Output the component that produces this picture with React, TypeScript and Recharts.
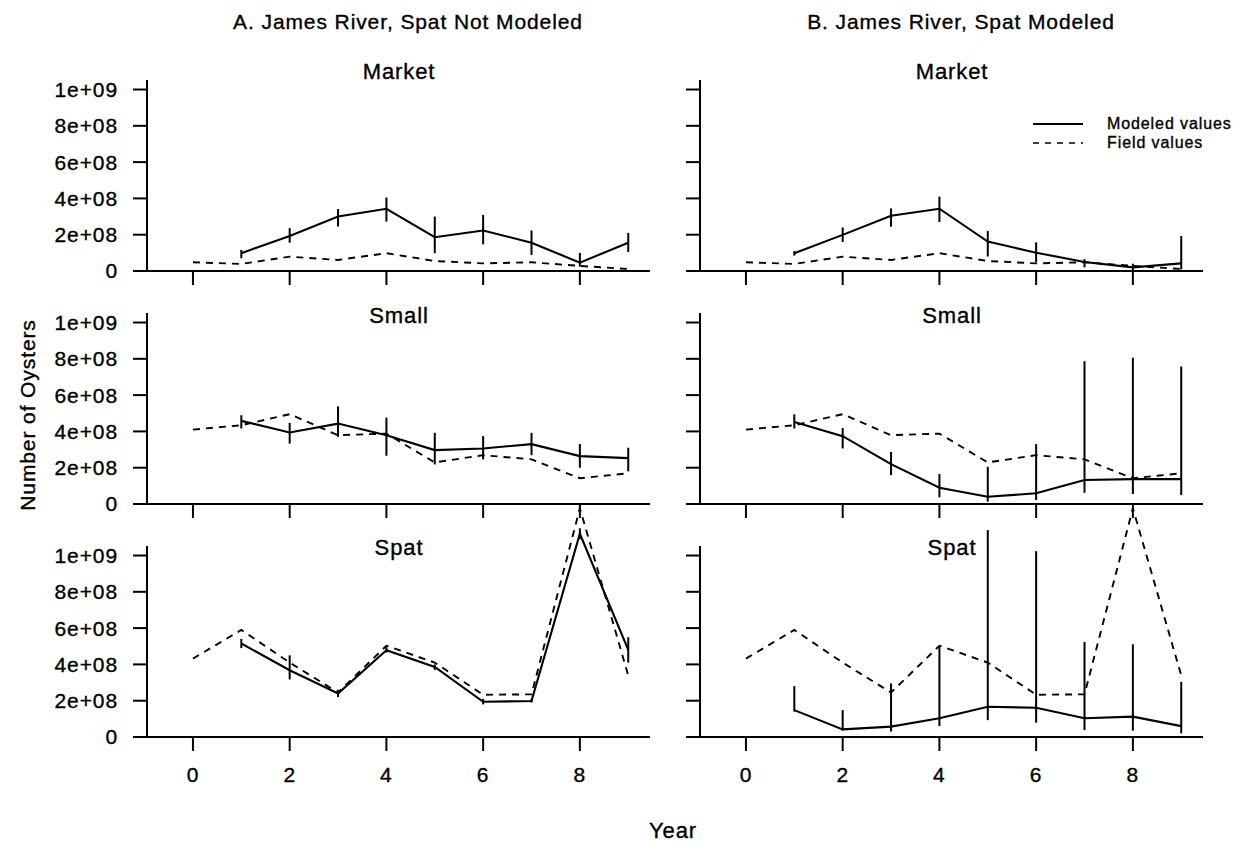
import { ErrorBar, Line, LineChart, ReferenceLine, XAxis, YAxis } from "recharts";

const years = [0, 1, 2, 3, 4, 5, 6, 7, 8, 9];
const xTicks = [0, 2, 4, 6, 8];
const yTicks = [0, 2e8, 4e8, 6e8, 8e8, 1e9];
const yTickLabels = ["0", "2e+08", "4e+08", "6e+08", "8e+08", "1e+09"];

// field survey values (dashed line), same in both columns
const marketField = [4.8e7, 3.9e7, 7.9e7, 6.1e7, 9.8e7, 5.5e7, 4.2e7, 4.8e7, 2.8e7, 1.1e7];
const smallField = [4.1e8, 4.34e8, 4.95e8, 3.79e8, 3.88e8, 2.29e8, 2.69e8, 2.46e8, 1.42e8, 1.69e8];
const spatField = [4.32e8, 5.9e8, 4.1e8, 2.45e8, 5.03e8, 4.1e8, 2.33e8, 2.35e8, 1.26e9, 3.4e8];

// A. spat not modeled
const marketModA = [null, 9.8e7, 1.93e8, 3.0e8, 3.43e8, 1.86e8, 2.23e8, 1.56e8, 4.6e7, 1.56e8];
const marketLowA = [null, 7.0e7, 1.56e8, 2.45e8, 2.72e8, 9.8e7, 1.47e8, 8.8e7, 2.4e7, 1.05e8];
const marketHighA = [null, 1.16e8, 2.36e8, 3.41e8, 4.05e8, 3.0e8, 3.09e8, 2.23e8, 1.0e8, 2.1e8];

const smallModA = [null, 4.58e8, 3.94e8, 4.43e8, 3.79e8, 2.97e8, 3.06e8, 3.3e8, 2.64e8, 2.53e8];
const smallLowA = [null, 4.16e8, 3.33e8, 3.7e8, 2.66e8, 2.18e8, 2.46e8, 2.69e8, 2.0e8, 1.8e8];
const smallHighA = [null, 4.89e8, 4.47e8, 5.38e8, 4.76e8, 3.92e8, 3.74e8, 3.92e8, 3.3e8, 3.1e8];

const spatModA = [null, 5.15e8, 3.68e8, 2.4e8, 4.78e8, 3.86e8, 1.94e8, 1.98e8, 1.12e9, 4.8e8];
const spatLowA = [null, 4.9e8, 3.17e8, 2.2e8, 4.65e8, 3.7e8, 1.8e8, 1.9e8, 1.09e9, 4.1e8];
const spatHighA = [null, 5.4e8, 4.5e8, 2.6e8, 4.95e8, 4.0e8, 2.1e8, 2.1e8, 1.15e9, 5.5e8];

// B. spat modeled
const marketModB = [null, 9.8e7, 1.99e8, 3.04e8, 3.43e8, 1.62e8, 1.01e8, 5.0e7, 2.0e7, 4.2e7];
const marketLowB = [null, 8.5e7, 1.6e8, 2.44e8, 2.7e8, 8.0e7, 4.8e7, 2.0e7, 0, 9e6];
const marketHighB = [null, 1.1e8, 2.4e8, 3.45e8, 4.1e8, 2.2e8, 1.58e8, 6.5e7, 4.0e7, 1.93e8];

const smallModB = [null, 4.52e8, 3.74e8, 2.2e8, 9.0e7, 4.0e7, 5.9e7, 1.32e8, 1.37e8, 1.37e8];
const smallLowB = [null, 4.16e8, 3.06e8, 1.59e8, 3.7e7, 1.3e7, 2.2e7, 6.2e7, 5.5e7, 4.9e7];
const smallHighB = [null, 4.94e8, 4.19e8, 2.87e8, 1.65e8, 2.05e8, 3.3e8, 7.87e8, 8.06e8, 7.58e8];

const spatModB = [null, 1.48e8, 4.2e7, 5.7e7, 1.03e8, 1.67e8, 1.61e8, 1.03e8, 1.12e8, 6.0e7];
const spatLowB = [null, 1.4e8, 3.5e7, 3.0e7, 6.0e7, 9.3e7, 7.9e7, 3.8e7, 3.5e7, 2.0e7];
const spatHighB = [null, 2.8e8, 1.48e8, 2.95e8, 5.0e8, 1.14e9, 1.024e9, 5.24e8, 5.11e8, 3.04e8];

const FONT = '"Liberation Sans", Arial, Helvetica, sans-serif';
const Y_MAX = 1.35e9;
const PLOT_W = 503;
const PLOT_H = 245;
const Y_AXIS_W = 120;

const tickStyle = { fill: "#000", fontSize: 21, stroke: "#000", strokeWidth: 0.35 };

function buildRows(mod: (number | null)[], low: (number | null)[], high: (number | null)[], field: number[]) {
  return years.map((year, i) => {
    const m = mod[i];
    return {
      year,
      field: field[i],
      modeled: m,
      err: m == null ? undefined : [m - (low[i] as number), (high[i] as number) - m],
    };
  });
}

type PanelProps = {
  rows: ReturnType<typeof buildRows>;
  axisX: number;
  zeroY: number;
  yLabels: boolean;
  xLabels: boolean;
};

function Panel({ rows, axisX, zeroY, yLabels, xLabels }: PanelProps) {
  const xAxisH = xLabels ? 70 : 20;
  return (
    <div style={{ position: "absolute", left: axisX - Y_AXIS_W, top: zeroY - PLOT_H }}>
      <LineChart
        width={Y_AXIS_W + PLOT_W}
        height={PLOT_H + xAxisH}
        data={rows}
        margin={{ top: 0, right: 0, bottom: 0, left: 0 }}
        style={{ overflow: "visible" }}
      >
        <XAxis
          dataKey="year"
          type="number"
          domain={[-0.95, 9.45]}
          ticks={xTicks}
          height={xAxisH}
          tickSize={14}
          tickMargin={16}
          axisLine={{ stroke: "#000", strokeWidth: 2 }}
          tickLine={{ stroke: "#000", strokeWidth: 2 }}
          tick={tickStyle}
          tickFormatter={(v: number) => (xLabels ? String(v) : "")}
        />
        <YAxis
          type="number"
          domain={[0, Y_MAX]}
          ticks={yTicks}
          width={Y_AXIS_W}
          tickSize={14}
          tickMargin={15}
          axisLine={false}
          tickLine={{ stroke: "#000", strokeWidth: 2 }}
          tick={tickStyle}
          tickFormatter={(v: number) => (yLabels ? yTickLabels[yTicks.indexOf(v)] : "")}
        />
        <ReferenceLine
          segment={[
            { x: -0.95, y: 0 },
            { x: -0.95, y: 1.052e9 },
          ]}
          stroke="#000"
          strokeWidth={2}
          ifOverflow="visible"
        />
        <Line
          dataKey="field"
          type="linear"
          stroke="#000"
          strokeWidth={1.9}
          strokeDasharray="7 6"
          dot={false}
          isAnimationActive={false}
        />
        <Line
          dataKey="modeled"
          type="linear"
          stroke="#000"
          strokeWidth={2.1}
          dot={false}
          isAnimationActive={false}
        >
          <ErrorBar dataKey="err" width={0} stroke="#000" strokeWidth={2} direction="y" isAnimationActive={false} />
        </Line>
      </LineChart>
    </div>
  );
}

const label = (text: string, x: number, y: number, size: number, extra: React.CSSProperties = {}) => (
  <div
    style={{
      position: "absolute",
      left: x,
      top: y,
      transform: "translate(-50%, -50%)",
      fontSize: size,
      lineHeight: 1,
      whiteSpace: "nowrap",
      ...extra,
    }}
  >
    {text}
  </div>
);

export default function App() {
  const leftX = 147;
  const rightX = 700;
  const zeros = [271, 504, 737];
  return (
    <div
      style={{
        position: "absolute",
        left: 0,
        top: 0,
        width: 1236,
        height: 844,
        background: "#fff",
        fontFamily: FONT,
        letterSpacing: "0.9px",
        color: "#000",
        WebkitTextStroke: "0.35px #000",
      }}
    >
      <Panel rows={buildRows(marketModA, marketLowA, marketHighA, marketField)} axisX={leftX} zeroY={zeros[0]} yLabels xLabels={false} />
      <Panel rows={buildRows(smallModA, smallLowA, smallHighA, smallField)} axisX={leftX} zeroY={zeros[1]} yLabels xLabels={false} />
      <Panel rows={buildRows(spatModA, spatLowA, spatHighA, spatField)} axisX={leftX} zeroY={zeros[2]} yLabels xLabels />
      <Panel rows={buildRows(marketModB, marketLowB, marketHighB, marketField)} axisX={rightX} zeroY={zeros[0]} yLabels={false} xLabels={false} />
      <Panel rows={buildRows(smallModB, smallLowB, smallHighB, smallField)} axisX={rightX} zeroY={zeros[1]} yLabels={false} xLabels={false} />
      <Panel rows={buildRows(spatModB, spatLowB, spatHighB, spatField)} axisX={rightX} zeroY={zeros[2]} yLabels={false} xLabels />

      {label("A. James River, Spat Not Modeled", 408, 21, 21)}
      {label("B. James River, Spat Modeled", 961, 21, 21)}

      {label("Market", 399, 72, 22)}
      {label("Small", 399, 316, 22)}
      {label("Spat", 399, 548, 22)}
      {label("Market", 952, 72, 22)}
      {label("Small", 952, 316, 22)}
      {label("Spat", 952, 548, 22)}

      {label("Year", 673, 831, 22)}
      {label("Number of Oysters", 27, 415, 21, { transform: "translate(-50%, -50%) rotate(-90deg)" })}

      <svg style={{ position: "absolute", left: 1030, top: 114 }} width={56} height={40}>
        <line x1={3} y1={10} x2={53} y2={10} stroke="#000" strokeWidth={2.2} />
        <line x1={3} y1={29} x2={53} y2={29} stroke="#000" strokeWidth={1.6} strokeDasharray="6 6" />
      </svg>
      <div style={{ position: "absolute", left: 1107, top: 124, transform: "translateY(-50%)", fontSize: 16, lineHeight: 1 }}>
        Modeled values
      </div>
      <div style={{ position: "absolute", left: 1107, top: 143, transform: "translateY(-50%)", fontSize: 16, lineHeight: 1 }}>
        Field values
      </div>
    </div>
  );
}
